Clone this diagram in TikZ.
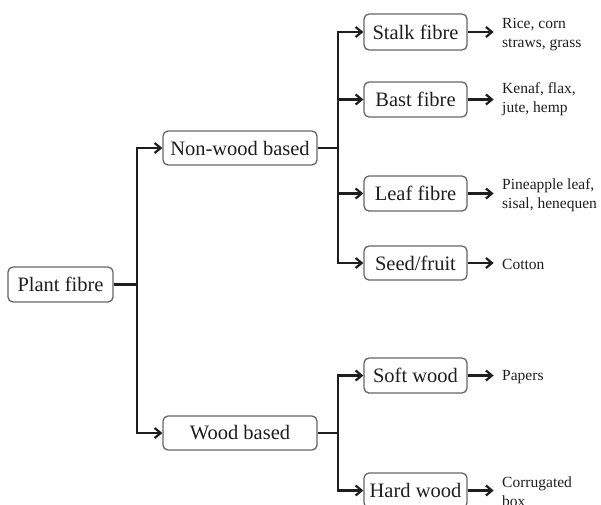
\documentclass[tikz,border=0pt]{standalone}
\usepackage{fontspec}
\setmainfont{Liberation Serif}
\usetikzlibrary{arrows.meta}
\definecolor{ink}{HTML}{1E1E1E}
\definecolor{boxline}{HTML}{666666}
\begin{document}
\begin{tikzpicture}[x=1pt,y=-1pt,
  catbox/.style={draw=boxline, line width=1.3pt, rounded corners=5pt, fill=white,
    text=ink, font=\fontsize{20.5}{22}\selectfont, inner sep=0pt,
    minimum height=35pt, align=center},
  leaftext/.style={anchor=west, text=ink, font=\fontsize{15.5}{19}\selectfont,
    align=left, inner sep=0pt},
  conn/.style={draw=ink, line width=2.2pt},
  arr/.style={conn, -{Straight Barb[length=6pt,width=10pt,line width=2.2pt]}}
]
\useasboundingbox (0,0) rectangle (601,504);
\clip (0,0) rectangle (601,504);
\fill[white] (0,0) rectangle (601,504);

% level 0
\node[catbox, minimum width=105pt] (plant) at (60.5,284.5) {Plant fibre};
% level 1
\node[catbox, minimum width=154pt, minimum height=34pt] (nonwood) at (240,148) {Non-wood based};
\node[catbox, minimum width=154pt, minimum height=34pt] (wood) at (240,433) {Wood based};
% level 2
\node[catbox, minimum width=103pt, minimum height=36pt] (stalk) at (415.5,32) {Stalk fibre};
\node[catbox, minimum width=103pt] (bast) at (415.5,99.5) {Bast fibre};
\node[catbox, minimum width=103pt] (leaf) at (415.5,193.5) {Leaf fibre};
\node[catbox, minimum width=103pt, minimum height=34pt] (seed) at (415.5,263) {Seed/fruit};
\node[catbox, minimum width=103pt] (soft) at (415.5,375.5) {Soft wood};
\node[catbox, minimum width=103pt] (hard) at (415.5,490.5) {Hard wood};
% level 3 texts
\node[leaftext] (t1) at (502,35) {Rice, corn\\straws, grass};
\node[leaftext] (t2) at (502,99) {Kenaf, flax,\\jute, hemp};
\node[leaftext] (t3) at (502,195) {Pineapple leaf,\\sisal, henequen};
\node[leaftext] (t4) at (502,264) {Cotton};
\node[leaftext] (t5) at (502,377) {Papers};
\node[leaftext] (t6) at (502,491.5) {Corrugated\\box};

% junctions
\coordinate (j1) at (137,284.5);
\coordinate (j2) at (338,148);
\coordinate (j3) at (338,433);

\draw[conn] (plant.east) -- (j1);
\draw[arr] (j1) |- (nonwood.west);
\draw[arr] (j1) |- (wood.west);

\draw[conn] (nonwood.east) -- (j2);
\draw[arr] (j2) |- (stalk.west);
\draw[arr] (j2) |- (bast.west);
\draw[arr] (j2) |- (leaf.west);
\draw[arr] (j2) |- (seed.west);

\draw[conn] (wood.east) -- (j3);
\draw[arr] (j3) |- (soft.west);
\draw[arr] (j3) |- (hard.west);

\draw[arr] (stalk.east) -- ++(26,0) coordinate (e1);
\draw[arr] (bast.east) -- ++(26,0) coordinate (e2);
\draw[arr] (leaf.east) -- ++(26,0) coordinate (e3);
\draw[arr] (seed.east) -- ++(26,0) coordinate (e4);
\draw[arr] (soft.east) -- ++(26,0) coordinate (e5);
\draw[arr] (hard.east) -- ++(26,0) coordinate (e6);
\end{tikzpicture}
\end{document}
